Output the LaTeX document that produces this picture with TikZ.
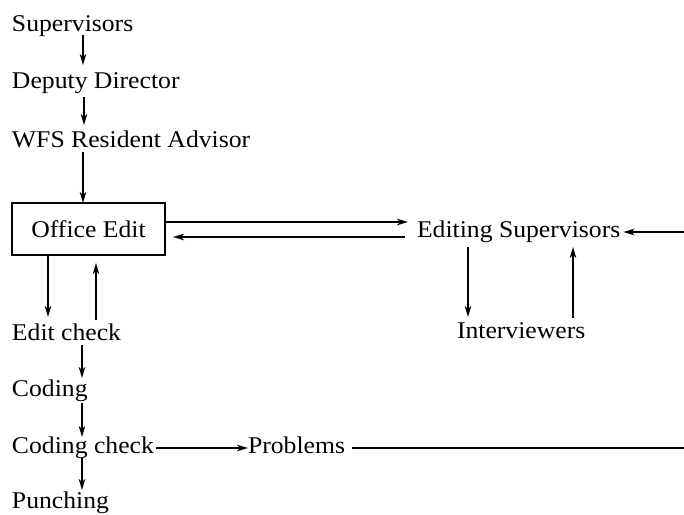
\documentclass[tikz,border=0pt]{standalone}
\usepackage{fontspec}
\setmainfont{Liberation Serif}[FakeStretch=1.07]
\usetikzlibrary{arrows.meta,calc}
\tikzset{
  lbl/.style={anchor=base west, inner sep=0pt, outer sep=0pt, font=\fontsize{24}{28}\selectfont},
  arr/.style={line width=1.7pt, -{Stealth[length=11pt,width=6.5pt,inset=3pt]}},
  ln/.style={line width=1.7pt},
}
\begin{document}
\begin{tikzpicture}[x=1pt,y=-1pt]
\useasboundingbox (0,0) rectangle (684,514);
\node[lbl] (sup) at (12,31) {Supervisors};
\node[lbl] (dep) at (12,88) {Deputy Director};
\node[lbl] (wfs) at (12,147) {WFS Resident Advisor};
\node[draw, line width=1.7pt, minimum width=153pt, minimum height=52pt, inner sep=0pt,
      outer sep=0pt, font=\fontsize{24}{28}\selectfont] (box) at (88.5,229) {Office Edit};
\node[lbl] (edsup) at (417,237) {Editing Supervisors};
\node[lbl] (inter) at (457,338) {Interviewers};
\node[lbl] (editc) at (12,340) {Edit check};
\node[lbl] (coding) at (12,396) {Coding};
\node[lbl] (codchk) at (12,453) {Coding check};
\node[lbl] (prob) at (248,453) {Problems};
\node[lbl] (punch) at (12,508) {Punching};
\coordinate (rin) at (684,232);
\coordinate (rout) at (684,448);

\draw[arr] ($(sup.base west)+(71,4)$) -- ($(dep.base west)+(71,-23)$);
\draw[arr] ($(dep.base west)+(72,9)$) -- ($(wfs.base west)+(72,-22)$);
\draw[arr] ($(wfs.base west)+(71,5)$) -- ($(box.north west)+(71,0)$);
\draw[arr] ($(box.north east)+(0,19)$) -- ($(edsup.base west)+(-9,-15)$);
\draw[arr] ($(edsup.base west)+(-12,0)$) -- ($(box.north east)+(8,34)$);
\draw[arr] (rin) -- ($(edsup.base east)+(3,-5)$);
\draw[arr] ($(edsup.base west)+(51,10)$) -- ($(inter.base west)+(11,-21)$);
\draw[arr] ($(inter.base west)+(116,-20)$) -- ($(edsup.base west)+(156,10)$);
\draw[arr] ($(box.south west)+(36,0)$) -- ($(editc.base west)+(36,-23)$);
\draw[arr] ($(editc.base west)+(84,-20)$) -- ($(box.south west)+(84,8)$);
\draw[arr] ($(editc.base west)+(70,5)$) -- ($(coding.base west)+(70,-18)$);
\draw[arr] ($(coding.base west)+(70,7)$) -- ($(codchk.base west)+(70,-16)$);
\draw[arr] ($(codchk.base west)+(70,5)$) -- ($(punch.base west)+(70,-18)$);
\draw[arr] ($(codchk.base east)+(2,-5)$) -- ($(prob.base west)+(0,-5)$);
\draw[ln] ($(prob.base east)+(7,-5)$) -- (rout);
\end{tikzpicture}
\end{document}
